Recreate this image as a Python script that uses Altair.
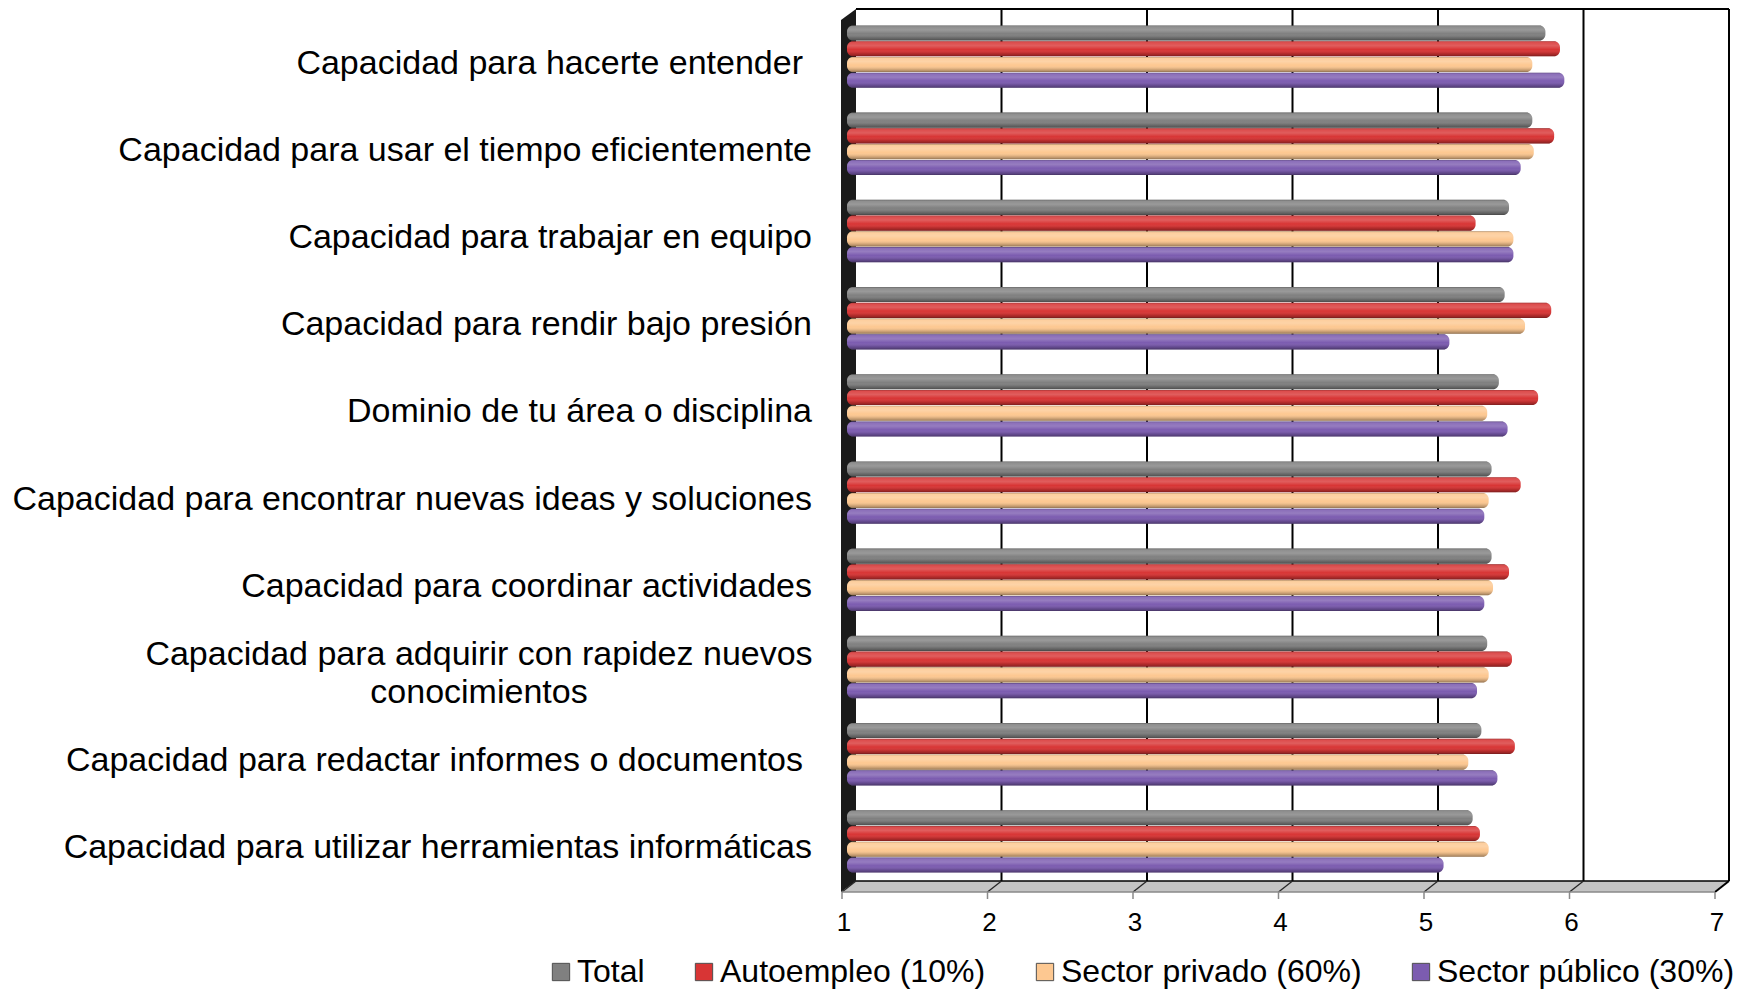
import altair as alt
import pandas as pd

# ---- data -------------------------------------------------------------
categories = [
    "Capacidad para hacerte entender",
    "Capacidad para usar el tiempo eficientemente",
    "Capacidad para trabajar en equipo",
    "Capacidad para rendir bajo presión",
    "Dominio de tu área o disciplina",
    "Capacidad para encontrar nuevas ideas y soluciones",
    "Capacidad para coordinar actividades",
    "Capacidad para adquirir con rapidez nuevos conocimientos",
    "Capacidad para redactar informes o documentos",
    "Capacidad para utilizar herramientas informáticas",
]
series = ["Total", "Autoempleo (10%)", "Sector privado (60%)", "Sector público (30%)"]
colors = ["#808080", "#d83535", "#fdc891", "#7c5cb0"]

total      = [5.80, 5.71, 5.55, 5.52, 5.48, 5.43, 5.43, 5.40, 5.36, 5.30]
autoempleo = [5.90, 5.86, 5.32, 5.84, 5.75, 5.63, 5.55, 5.57, 5.59, 5.35]
privado    = [5.71, 5.72, 5.58, 5.66, 5.40, 5.41, 5.44, 5.41, 5.27, 5.41]
publico    = [5.93, 5.63, 5.58, 5.14, 5.54, 5.38, 5.38, 5.33, 5.47, 5.10]

ticks = [1, 2, 3, 4, 5, 6, 7]

# labels that carry a trailing blank, and the one that wraps onto two lines
padded = ["Capacidad para hacerte entender", "Capacidad para redactar informes o documentos"]
wrapped = "Capacidad para adquirir con rapidez nuevos conocimientos"
wrapped_text = "Capacidad para adquirir con rapidez nuevos\nconocimientos"

# ---- layout -----------------------------------------------------------
FONT = "Liberation Sans"
W, H = 873, 872            # bar plane
LEFT, TOP = 847, 13
BX, BY = 9, -4             # back wall offset of the 3-D box
FX, FY = -5, 7             # front edge offset of the 3-D box
TICK = 7
LABEL_RIGHT = -35
BLANK = 9                  # width of the trailing blank
WRAP_CENTER = -368
LINE_H = 38


def px(v):
    return (v - ticks[0]) * W / (ticks[-1] - ticks[0])


rows = []
for s, vals in zip(series, [total, autoempleo, privado, publico]):
    for c, v in zip(categories, vals):
        rows.append({"cat": c, "serie": s, "valor": v})
df = pd.DataFrame(rows)

pxs = alt.Scale(domain=[0, W], range=[0, W], nice=False, zero=False)
pys = alt.Scale(domain=[0, H], range=[0, H], nice=False, zero=False)
x_scale = alt.Scale(domain=[ticks[0], ticks[-1]], nice=False, zero=False)

# ---- 3-D frame: floor, left wall, grid and edges ------------------------
floor_df = pd.DataFrame({
    "x": [FX, BX, W + FX, W + BX],
    "y": [H + FY, H + BY, H + BY, H + BY],
    "y2": [H + FY, H + FY, H + FY, H + BY],
})
floor = alt.Chart(floor_df).mark_area(orient="vertical", color="#c4c4c4").encode(
    x=alt.X("x:Q", scale=pxs, axis=None),
    y=alt.Y("y:Q", scale=pys, axis=None),
    y2="y2:Q",
)

wall_df = pd.DataFrame({
    "y": [BY, FY, H + BY, H + FY],
    "x": [BX, FX - 1, FX - 1, FX - 1],
    "x2": [BX, BX, BX, FX - 1],
})
wall = alt.Chart(wall_df).mark_area(orient="horizontal", color="#1a1a1a").encode(
    y=alt.Y("y:Q", scale=pys, axis=None),
    x=alt.X("x:Q", scale=pxs, axis=None),
    x2="x2:Q",
)

edges = []
for v in ticks[1:]:
    edges.append((px(v) + BX, BY, px(v) + BX, H + BY, "#000000", 2))
edges.append((BX, BY, W + BX, BY, "#000000", 2))
edges.append((BX, H + BY, W + BX, H + BY, "#000000", 1.5))
for v in ticks:
    edges.append((px(v) + BX, H + BY, px(v) + FX, H + FY,
                  "#000000" if v == ticks[-1] else "#262626",
                  2 if v == ticks[-1] else 1.3))
    edges.append((px(v) + FX, H + FY, px(v) + FX, H + FY + TICK, "#8a8a8a", 1.5))
edges.append((FX, H + FY, W + FX, H + FY, "#8a8a8a", 1.5))
edges_df = pd.DataFrame(edges, columns=["x", "y", "x2", "y2", "c", "w"])
frame = alt.Chart(edges_df).mark_rule().encode(
    x=alt.X("x:Q", scale=pxs, axis=None),
    x2="x2:Q",
    y=alt.Y("y:Q", scale=pys, axis=None),
    y2="y2:Q",
    color=alt.Color("c:N", scale=None),
    strokeWidth=alt.StrokeWidth("w:Q", scale=None),
)

# value labels under the front edge
tick_labels = alt.Chart(pd.DataFrame({"v": ticks})).mark_text(
    font=FONT, fontSize=26, color="black", baseline="middle", align="center", dx=FX + 2
).encode(
    x=alt.X("v:Q", scale=x_scale, axis=None),
    y=alt.value(H + 38),
    text=alt.Text("v:Q", format="d"),
)

# ---- bars -------------------------------------------------------------
y_scale = alt.Scale(domain=categories, paddingInner=0.284, paddingOuter=0.142)
y_enc = alt.Y("cat:N", sort=categories, scale=y_scale, axis=None)
yoff_enc = alt.YOffset("serie:N", sort=series,
                       scale=alt.Scale(domain=series, paddingInner=0.04, paddingOuter=0))

bars = alt.Chart(df).mark_bar(cornerRadiusEnd=6).encode(
    x=alt.X("valor:Q", scale=x_scale, axis=None),
    x2=alt.datum(ticks[0]),
    y=y_enc,
    yOffset=yoff_enc,
    color=alt.Color(
        "serie:N", sort=series,
        scale=alt.Scale(domain=series, range=colors),
        legend=alt.Legend(
            title=None, orient="none", direction="horizontal",
            legendX=-302, legendY=943, padding=0,
            symbolType="square", symbolSize=300, symbolStrokeWidth=1,
            symbolStrokeColor="#4d4d4d", symbolOpacity=1,
            labelFont=FONT, labelFontSize=32, labelColor="black",
            labelOffset=0, columnPadding=43, labelLimit=600,
        ),
    ),
)

# cylinder shading laid over each bar
shade_fill = alt.LinearGradient(
    gradient="linear", x1=0, x2=0, y1=0, y2=1,
    stops=[
        alt.GradientStop(offset=0.0, color="rgba(0,0,0,0.30)"),
        alt.GradientStop(offset=0.10, color="rgba(255,255,255,0.12)"),
        alt.GradientStop(offset=0.30, color="rgba(255,255,255,0.20)"),
        alt.GradientStop(offset=0.55, color="rgba(255,255,255,0.0)"),
        alt.GradientStop(offset=0.80, color="rgba(0,0,0,0.14)"),
        alt.GradientStop(offset=0.92, color="rgba(0,0,0,0.28)"),
        alt.GradientStop(offset=1.0, color="rgba(0,0,0,0.45)"),
    ],
)
shade = alt.Chart(df).mark_bar(cornerRadiusEnd=6, fill=shade_fill).encode(
    x=alt.X("valor:Q", scale=x_scale, axis=None),
    x2=alt.datum(ticks[0]),
    y=y_enc,
    yOffset=yoff_enc,
)

# ---- category labels --------------------------------------------------
plain = [c for c in categories if c not in padded and c != wrapped]
text_style = dict(baseline="middle", font=FONT, fontSize=34, color="black")

labels = alt.Chart(pd.DataFrame({"cat": plain})).mark_text(
    align="right", dy=7, **text_style
).encode(y=y_enc, x=alt.value(LABEL_RIGHT), text="cat:N")

labels_padded = alt.Chart(pd.DataFrame({"cat": padded})).mark_text(
    align="right", dy=7, **text_style
).encode(y=y_enc, x=alt.value(LABEL_RIGHT - BLANK), text="cat:N")

labels_wrap = alt.Chart(pd.DataFrame({"cat": [wrapped], "txt": [wrapped_text]})).mark_text(
    align="center", lineBreak="\n", lineHeight=LINE_H, dy=7 - LINE_H / 2, **text_style
).encode(y=y_enc, x=alt.value(WRAP_CENTER), text="txt:N")

chart = (
    alt.layer(floor, wall, frame, tick_labels, bars, shade, labels, labels_padded, labels_wrap)
    .resolve_scale(x="independent", y="independent")
    .properties(
        width=W, height=H,
        padding={"left": LEFT, "top": TOP, "right": 1748 - LEFT - W, "bottom": 992 - TOP - H},
        autosize=alt.AutoSizeParams(type="none"),
        background="white",
    )
    .configure_view(stroke=None)
)

chart.save("out.html", embed_options={"renderer": "svg", "actions": False})
